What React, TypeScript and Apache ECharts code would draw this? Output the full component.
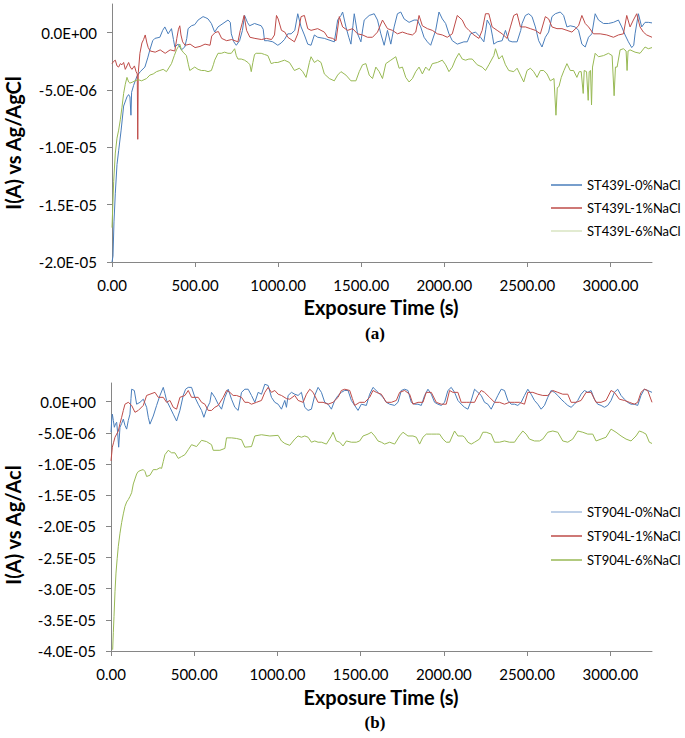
import React, { useEffect, useRef } from "react";
import * as echarts from "echarts";

// ---- data (time in s, current in µA; converted to A when plotted) ----
const st439_0: [number, number][] = [
  [0,-20],[6,-19.5],[12,-16.5],[20,-14],[30,-11.5],[40,-10.3],[55,-8.5],[70,-6.4],[90,-5.6],[100,-5.4],[108,-5.6],[114,-7.2],[118,-5.2],[130,-4.6],[150,-3.8],[170,-3.4],[198,-3.0],[215,-2.2],[228,-1.5],[245,-0.7],[258,-0.5],[288,-0.4],[305,0.2],[318,0.5],[338,-0.1],[358,0.35],[370,-0.6],[378,-1.25],[398,-1.0],[418,-1.5],[438,-1.25],[450,-0.5],[458,0.35],[478,0.6],[498,0.7],[518,1.1],[548,1.4],[565,1.3],[578,1.2],[598,0.8],[618,0.05],[638,0.5],[668,0.8],[698,1.1],[712,0.9],[718,-0.1],[733,-0.8],[748,-1.1],[768,-0.7],[785,0.2],[798,1.5],[815,0.9],[828,0.6],[858,0.8],[898,0.6],[910,0.3],[918,-0.7],[938,-0.7],[968,-0.8],[998,-1.1],[1018,-0.9],[1038,-0.6],[1058,-0.1],[1078,-0.1],[1100,0.2],[1118,1.65],[1138,0.5],[1158,-0.2],[1178,-1.0],[1198,-1.1],[1218,-0.2],[1238,-0.4],[1278,-0.5],[1318,-0.7],[1338,-0.8],[1350,0.3],[1358,1.1],[1378,1.5],[1388,1.8],[1408,0.5],[1425,-0.4],[1438,-1.0],[1450,0.6],[1458,1.65],[1478,-0.1],[1498,-0.8],[1510,0.4],[1518,1.1],[1548,1.5],[1578,1.65],[1598,1.1],[1618,-0.1],[1638,-1.1],[1658,0.2],[1678,-1.0],[1698,0.5],[1718,1.65],[1738,1.8],[1758,1.2],[1788,0.9],[1818,1.1],[1838,1.1],[1858,0.5],[1878,-0.4],[1898,-0.8],[1918,-1.1],[1948,0.2],[1968,1.8],[1988,1.2],[2008,0.8],[2028,-0.1],[2048,-0.7],[2078,-1.0],[2118,-0.8],[2138,-0.8],[2158,-0.1],[2188,0.05],[2218,-0.4],[2238,-0.8],[2250,0.3],[2258,1.1],[2278,0.6],[2290,-0.3],[2298,-1.0],[2318,-0.8],[2348,-0.7],[2368,0.2],[2388,-0.7],[2408,-0.8],[2438,-0.8],[2460,0.2],[2468,0.8],[2488,1.5],[2508,1.65],[2528,1.4],[2548,0.5],[2568,-0.7],[2588,-1.25],[2608,-0.4],[2628,0.05],[2648,1.4],[2668,1.65],[2698,1.8],[2718,1.5],[2738,0.5],[2758,0.6],[2788,0.5],[2808,0.2],[2828,-1.0],[2848,-1.25],[2868,-0.4],[2888,-0.1],[2908,1.65],[2928,1.1],[2958,0.8],[2988,0.8],[3018,0.9],[3048,1.1],[3068,0.5],[3088,-0.2],[3108,-0.8],[3128,-1.3],[3140,-1.1],[3148,-0.1],[3168,1.65],[3188,0.5],[3208,0.9],[3228,0.9],[3250,0.85]
];
const st439_1: [number, number][] = [
  [0,-2.7],[10,-2.5],[20,-2.4],[30,-2.9],[40,-3.0],[50,-2.7],[60,-2.8],[70,-2.6],[80,-3.2],[90,-2.9],[100,-2.6],[110,-3.0],[120,-3.2],[135,-2.9],[145,-3.4],[152,-3.6],[155,-9.3],[158,-3.5],[168,-1.8],[180,-0.9],[190,-0.6],[200,-0.2],[210,-0.9],[218,-1.3],[230,-1.6],[260,-1.7],[290,-1.5],[320,-1.8],[350,-1.5],[378,-1.6],[390,-0.5],[400,0.3],[408,0.6],[415,-0.2],[425,-0.8],[440,-1.1],[470,-1.0],[500,-1.3],[530,-1.2],[560,-1.0],[590,-1.1],[600,-0.3],[620,0.0],[640,0.1],[660,-0.5],[690,-0.7],[720,-0.6],[758,-0.8],[772,0.2],[785,0.9],[795,1.5],[810,0.2],[830,-0.4],[860,-0.5],[900,-0.6],[930,-0.5],[960,-0.6],[978,-0.2],[990,1.5],[1000,1.2],[1020,0.2],[1040,0.05],[1058,-0.4],[1098,-0.8],[1118,-0.1],[1138,1.4],[1158,1.5],[1178,0.35],[1198,0.2],[1238,0.35],[1278,0.05],[1298,-0.4],[1328,-0.5],[1348,-0.7],[1368,1.4],[1388,0.5],[1418,0.2],[1448,0.35],[1478,-0.1],[1508,-0.2],[1538,-0.4],[1568,-0.4],[1598,0.05],[1628,1.1],[1658,0.35],[1688,0.2],[1718,-0.1],[1748,0.05],[1778,-0.1],[1808,-0.2],[1828,0.05],[1848,1.5],[1868,0.6],[1898,0.35],[1928,0.2],[1958,-0.1],[1988,-0.2],[2018,-0.4],[2048,-0.1],[2078,1.5],[2108,1.1],[2128,0.5],[2148,0.2],[2178,-0.2],[2208,-0.5],[2228,0.2],[2248,1.65],[2268,1.65],[2288,0.5],[2318,0.2],[2348,-0.1],[2378,-0.5],[2398,0.5],[2418,1.5],[2438,1.65],[2458,0.5],[2488,0.5],[2518,0.35],[2548,0.2],[2578,-0.1],[2608,1.4],[2628,1.2],[2648,0.5],[2678,0.35],[2708,0.35],[2738,0.2],[2768,0.05],[2808,0.6],[2828,1.5],[2848,0.8],[2868,0.5],[2898,-0.1],[2938,-0.1],[2978,-0.2],[3018,-0.4],[3048,-0.2],[3078,-0.1],[3098,1.5],[3118,0.5],[3138,1.1],[3158,1.65],[3178,0.5],[3198,0.05],[3218,-0.2],[3250,-0.4]
];
const st439_6: [number, number][] = [
  [0,-17],[5,-15],[10,-13],[20,-10.5],[30,-9.2],[40,-8.5],[50,-7.6],[60,-6.5],[70,-5.3],[80,-4.5],[90,-3.9],[100,-4.3],[108,-4.4],[125,-4.3],[138,-4.2],[158,-4.1],[178,-4.2],[208,-4.0],[228,-3.7],[248,-3.6],[268,-3.4],[288,-3.3],[308,-3.2],[328,-3.4],[345,-3.0],[358,-2.7],[375,-2.0],[388,-1.5],[400,-1.2],[408,-1.0],[418,-1.5],[428,-1.7],[448,-2.0],[460,-2.8],[468,-3.3],[498,-3.0],[518,-3.2],[538,-3.3],[558,-3.3],[578,-3.4],[598,-3.3],[610,-2.8],[618,-2.4],[638,-1.8],[658,-1.8],[678,-1.7],[698,-1.8],[718,-1.8],[738,-1.4],[748,-2.0],[758,-2.3],[778,-2.3],[798,-2.4],[818,-2.6],[830,-2.8],[838,-3.4],[848,-2.6],[858,-1.9],[868,-1.8],[898,-1.8],[918,-1.9],[938,-2.0],[958,-2.7],[978,-2.6],[998,-2.6],[1018,-2.5],[1038,-2.4],[1068,-2.6],[1098,-3.3],[1128,-3.1],[1148,-3.4],[1168,-3.9],[1188,-2.6],[1198,-2.1],[1218,-2.6],[1238,-2.4],[1258,-2.6],[1278,-3.6],[1308,-4.0],[1338,-4.2],[1358,-3.7],[1378,-3.4],[1408,-3.7],[1438,-4.2],[1468,-4.2],[1488,-3.4],[1508,-2.8],[1528,-2.7],[1548,-3.7],[1568,-4.0],[1588,-3.0],[1608,-3.4],[1628,-4.0],[1648,-2.7],[1678,-2.4],[1708,-2.1],[1728,-3.1],[1748,-3.0],[1768,-3.9],[1788,-4.3],[1808,-4.0],[1828,-3.4],[1848,-3.0],[1868,-3.6],[1888,-3.0],[1908,-3.3],[1928,-2.7],[1958,-2.6],[1988,-2.4],[2008,-2.8],[2028,-3.4],[2048,-3.0],[2068,-2.3],[2088,-1.8],[2108,-2.3],[2128,-2.4],[2148,-2.3],[2168,-2.3],[2198,-2.8],[2228,-3.0],[2248,-3.3],[2268,-2.8],[2298,-2.0],[2308,-1.4],[2328,-2.3],[2348,-2.0],[2368,-2.8],[2388,-3.3],[2418,-3.4],[2438,-3.1],[2458,-3.7],[2478,-4.3],[2498,-3.3],[2518,-3.1],[2538,-3.4],[2558,-3.9],[2578,-3.3],[2598,-3.3],[2618,-3.6],[2638,-4.2],[2660,-4.0],[2672,-7.2],[2680,-4.8],[2690,-4.7],[2704,-3.9],[2720,-3.3],[2738,-2.7],[2758,-3.3],[2778,-3.3],[2798,-3.9],[2812,-3.4],[2824,-3.4],[2836,-5.3],[2842,-3.3],[2856,-3.4],[2866,-5.9],[2872,-3.4],[2880,-3.3],[2886,-6.3],[2892,-3.0],[2908,-1.8],[2928,-2.1],[2958,-2.0],[2988,-1.8],[3010,-2.0],[3022,-5.5],[3030,-3.0],[3040,-3.0],[3058,-1.5],[3078,-1.4],[3094,-1.6],[3100,-3.3],[3106,-1.6],[3118,-1.5],[3148,-1.7],[3178,-1.8],[3208,-1.25],[3228,-1.4],[3250,-1.3]
];

const st904_0: [number, number][] = [
  [0,-4.9],[4,-3.1],[8,-2.0],[14,-3.0],[20,-4.1],[28,-3.5],[34,-3.3],[40,-5.0],[46,-7.3],[54,-4.1],[64,-3.5],[74,-2.8],[84,-3.8],[94,-4.4],[104,-3.0],[114,-2.0],[120,0.5],[124,2.0],[140,1.8],[154,-0.4],[174,-0.1],[194,0.4],[214,-0.9],[224,-2.5],[234,-3.6],[254,-2.3],[274,-0.6],[294,1.0],[314,2.3],[324,1.3],[334,0.2],[354,-0.9],[374,-2.0],[394,-3.1],[414,-1.4],[434,1.0],[448,2.0],[464,2.3],[484,2.3],[504,0.7],[524,-0.4],[544,-1.4],[558,-2.5],[574,-1.2],[594,-0.1],[604,1.5],[624,0.7],[644,-0.4],[664,-1.2],[684,0.7],[704,2.0],[724,0.4],[744,-0.9],[764,-1.4],[784,1.5],[804,2.0],[824,2.0],[844,1.0],[864,-0.1],[884,1.5],[904,1.2],[924,2.8],[944,2.6],[964,0.7],[984,-0.1],[1004,-0.4],[1024,-1.2],[1044,0.2],[1054,-0.9],[1064,1.0],[1084,1.5],[1104,1.2],[1124,1.0],[1144,1.5],[1164,-0.9],[1184,-1.4],[1204,-1.2],[1224,1.0],[1244,2.3],[1264,1.5],[1284,-0.1],[1304,-0.4],[1324,-1.2],[1344,0.2],[1364,1.0],[1384,1.5],[1404,1.8],[1424,1.8],[1444,0.2],[1464,-0.6],[1484,-1.4],[1504,-0.4],[1534,-0.6],[1554,1.2],[1574,2.3],[1604,1.5],[1634,0.7],[1654,-0.1],[1674,-0.4],[1704,-0.6],[1724,-0.1],[1744,1.8],[1764,2.0],[1784,1.8],[1804,-0.1],[1824,-0.4],[1844,-0.4],[1864,-0.6],[1884,1.0],[1904,2.0],[1924,1.2],[1944,-0.1],[1964,-0.4],[1984,-0.6],[2004,-0.1],[2024,1.8],[2044,2.3],[2064,1.5],[2084,0.2],[2104,-0.4],[2124,-0.9],[2144,-1.2],[2164,0.2],[2184,2.0],[2204,1.5],[2224,1.0],[2244,-0.1],[2264,-0.4],[2284,-1.2],[2304,-0.1],[2324,1.0],[2344,2.0],[2364,1.8],[2384,0.2],[2404,-0.4],[2424,-0.4],[2444,-0.6],[2464,-0.1],[2484,1.0],[2504,2.0],[2524,1.2],[2544,0.2],[2564,-0.4],[2584,-1.2],[2604,-0.6],[2624,0.7],[2644,1.8],[2664,1.5],[2684,1.0],[2704,0.4],[2724,-0.1],[2744,-0.6],[2764,-0.9],[2784,-0.4],[2804,0.2],[2824,1.2],[2844,1.8],[2864,1.5],[2884,1.8],[2904,0.4],[2924,-0.4],[2944,-0.6],[2964,-0.9],[2984,-0.6],[3004,0.2],[3024,1.5],[3044,2.0],[3064,1.0],[3084,0.4],[3104,-0.1],[3124,-0.4],[3144,-0.4],[3164,-0.6],[3184,1.0],[3204,2.0],[3224,1.8],[3250,1.5]
];
const st904_1: [number, number][] = [
  [0,-9.5],[8,-7.3],[16,-6.5],[24,-5.7],[34,-5.2],[44,-4.7],[54,-3.5],[64,-2.5],[74,-1.4],[84,-0.4],[104,-0.1],[124,-0.6],[144,-1.7],[164,-1.4],[194,-0.6],[214,1.0],[234,1.2],[264,1.5],[284,0.7],[314,0.7],[334,-0.1],[354,0.2],[374,-0.9],[394,-1.2],[414,0.7],[444,1.0],[464,1.8],[484,0.7],[524,0.7],[544,-0.1],[564,-0.4],[584,-1.4],[604,-1.4],[624,-0.9],[644,-0.6],[674,0.7],[694,1.8],[714,1.5],[734,1.0],[754,1.0],[784,0.7],[804,-0.1],[824,-0.1],[844,-0.4],[874,-0.1],[904,0.2],[924,1.5],[944,2.3],[964,1.5],[984,1.8],[1004,1.2],[1024,1.0],[1054,0.5],[1074,0.4],[1104,1.0],[1124,0.2],[1154,-0.1],[1174,1.2],[1194,2.0],[1214,1.5],[1244,-0.1],[1274,-0.1],[1304,-0.4],[1334,-0.1],[1364,0.7],[1384,1.8],[1404,2.0],[1434,1.8],[1450,0.5],[1464,-0.6],[1494,-0.1],[1524,-0.1],[1554,0.7],[1574,1.8],[1594,1.5],[1624,1.2],[1654,-0.1],[1684,-0.1],[1714,0.2],[1734,1.5],[1764,1.8],[1794,1.2],[1814,-0.4],[1844,-0.1],[1874,-0.1],[1894,1.5],[1924,1.5],[1954,-0.1],[1984,-0.4],[2014,-0.4],[2034,1.8],[2054,1.5],[2084,1.5],[2104,-0.1],[2134,-0.1],[2154,-0.1],[2184,-0.1],[2204,1.0],[2224,1.8],[2244,1.5],[2274,0.7],[2304,-0.1],[2334,-0.1],[2364,-0.4],[2394,-0.1],[2424,-0.1],[2454,-0.1],[2484,-0.4],[2504,1.5],[2534,1.5],[2564,1.2],[2594,1.0],[2624,1.0],[2654,1.8],[2684,1.5],[2714,1.2],[2744,1.2],[2764,-0.1],[2794,-0.1],[2824,0.2],[2854,1.5],[2884,1.5],[2914,-0.1],[2944,-0.1],[2974,0.2],[3004,1.8],[3024,1.5],[3054,0.4],[3084,0.2],[3114,-0.1],[3144,-0.4],[3164,-0.1],[3184,1.5],[3204,2.0],[3224,1.8],[3250,-0.1]
];
const st904_6: [number, number][] = [
  [10,-39.8],[14,-37],[18,-34.5],[24,-30.5],[30,-27.5],[37,-25.2],[44,-23.2],[54,-21.1],[64,-19.4],[74,-18.0],[84,-16.8],[94,-16.1],[104,-15.7],[114,-15.2],[124,-14.6],[134,-13.2],[144,-12.4],[154,-11.6],[164,-11.2],[180,-11.0],[194,-10.9],[204,-11.2],[214,-12.0],[234,-11.8],[254,-10.9],[274,-10.9],[294,-10.6],[304,-10.7],[314,-9.6],[324,-8.5],[344,-7.8],[364,-8.2],[384,-8.2],[404,-9.1],[424,-8.8],[444,-8.5],[464,-7.7],[484,-6.9],[514,-7.2],[544,-6.2],[574,-6.4],[604,-6.9],[614,-7.8],[654,-7.8],[684,-7.5],[694,-5.8],[724,-5.8],[754,-5.9],[784,-6.1],[804,-7.3],[844,-7.2],[864,-5.5],[904,-5.3],[954,-5.5],[1004,-5.4],[1024,-6.3],[1044,-6.7],[1074,-7.0],[1104,-6.0],[1124,-5.5],[1144,-5.7],[1164,-5.5],[1184,-5.7],[1204,-6.5],[1224,-6.3],[1244,-6.5],[1264,-6.5],[1294,-6.8],[1324,-5.5],[1334,-4.9],[1354,-6.3],[1374,-6.5],[1394,-7.1],[1414,-6.3],[1444,-6.5],[1474,-6.5],[1494,-6.3],[1514,-5.5],[1544,-5.2],[1564,-4.9],[1584,-5.5],[1604,-6.3],[1624,-6.5],[1644,-6.8],[1674,-6.5],[1704,-6.8],[1734,-5.5],[1754,-4.9],[1784,-5.5],[1814,-5.5],[1834,-5.7],[1854,-6.8],[1874,-5.7],[1894,-5.2],[1924,-5.2],[1954,-5.2],[1974,-5.2],[1994,-6.0],[2014,-6.5],[2034,-6.5],[2064,-4.7],[2084,-5.5],[2114,-5.5],[2124,-5.7],[2144,-6.5],[2164,-6.8],[2184,-6.5],[2214,-6.0],[2234,-4.9],[2254,-4.9],[2284,-5.2],[2304,-6.5],[2334,-6.5],[2364,-6.3],[2394,-6.5],[2424,-6.5],[2444,-5.7],[2474,-4.7],[2494,-5.2],[2514,-6.0],[2544,-6.3],[2574,-6.3],[2594,-6.0],[2624,-4.9],[2654,-4.7],[2684,-4.9],[2714,-6.3],[2744,-6.5],[2774,-6.0],[2804,-4.7],[2834,-4.9],[2864,-5.2],[2894,-5.2],[2914,-6.3],[2944,-6.0],[2974,-5.7],[3004,-4.4],[3034,-4.9],[3064,-5.5],[3094,-6.0],[3124,-6.3],[3154,-5.5],[3174,-4.7],[3194,-4.9],[3214,-5.2],[3234,-6.5],[3250,-6.7]
];

const namesA = ["ST439L-0%NaCl", "ST439L-1%NaCl", "ST439L-6%NaCl"];
const namesB = ["ST904L-0%NaCl", "ST904L-1%NaCl", "ST904L-6%NaCl"];
const xTitle = "Exposure Time (s)";
const yTitleA = "I(A) vs Ag/AgCl";
const yTitleB = "I(A) vs Ag/Acl";

const BLUE = "#4a7ebb";
const RED = "#be4b48";
const GREEN = "#98b954";
const FONT = "Lato, 'Open Sans', sans-serif";

function sci(v: number): string {
  if (Math.abs(v) < 1e-13) return "0.0E+00";
  let e = Math.floor(Math.log10(Math.abs(v)));
  let m = v / Math.pow(10, e);
  if (Math.abs(Math.round(m * 10) / 10) >= 10) { m /= 10; e += 1; }
  if (Math.abs(Math.round(m * 10) / 10) < 1) { m *= 10; e -= 1; }
  return m.toFixed(1) + "E" + (e < 0 ? "-" : "+") + String(Math.abs(e)).padStart(2, "0");
}

const toA = (arr: [number, number][]) => arr.map(([t, v]) => [t, v * 1e-6]);

export default function App() {
  const ref = useRef<HTMLDivElement>(null);
  useEffect(() => {
    if (!ref.current) return;
    const chart = echarts.init(ref.current, null, { renderer: "svg" });
    const axisLine = { lineStyle: { color: "#868686", width: 1 } };
    const labelStyle = { color: "#000", fontFamily: FONT, fontSize: 15 };
    const xAxisCommon = {
      type: "value", min: 0, max: 3250, interval: 500,
      axisLine: { show: true, onZero: false, ...axisLine },
      axisTick: { show: true, length: 5, lineStyle: { color: "#868686" } },
      splitLine: { show: false },
      axisLabel: { ...labelStyle, margin: 15, showMaxLabel: false, formatter: (v: number) => v.toFixed(2) },
    };
    const yAxisCommon = {
      type: "value", interval: 5e-6,
      axisLine: { show: true, ...axisLine },
      axisTick: { show: true, length: 5, lineStyle: { color: "#868686" } },
      splitLine: { show: false },
      axisLabel: { ...labelStyle, margin: 15, showMaxLabel: false, formatter: (v: number) => sci(v) },
    };
    const line = (name: string, data: [number, number][], color: string, idx: number) => ({
      name, type: "line", data: toA(data), xAxisIndex: idx, yAxisIndex: idx,
      symbol: "none", showSymbol: false,
      lineStyle: { color, width: 1 }, itemStyle: { color }, emphasis: { disabled: true },
    });
    const legendCommon = {
      orient: "vertical", icon: "rect", itemWidth: 31, itemHeight: 1.5, itemGap: 7, padding: 0,
      textStyle: { color: "#000", fontFamily: FONT, fontSize: 13, lineHeight: 16 },
      selectedMode: false,
    };
    const titleStyle = { fill: "#000", fontFamily: FONT, fontSize: 20, fontWeight: "bold", textAlign: "center", textVerticalAlign: "middle" };
    const capStyle = { fill: "#000", fontFamily: "'Liberation Serif', 'Times New Roman', serif", fontSize: 17, fontWeight: "bold", textAlign: "center", textVerticalAlign: "middle" };
    chart.setOption({
      animation: false,
      backgroundColor: "#fff",
      grid: [
        { left: 112, top: 4, width: 540, height: 258 },
        { left: 111, top: 383, width: 541, height: 268 },
      ],
      xAxis: [{ ...xAxisCommon, gridIndex: 0 }, { ...xAxisCommon, gridIndex: 1 }],
      yAxis: [
        { ...yAxisCommon, gridIndex: 0, min: -2e-5, max: 2.5e-6 },
        { ...yAxisCommon, gridIndex: 1, min: -4e-5, max: 3e-6 },
      ],
      legend: [
        { ...legendCommon, left: 551, top: 177,
          data: [
            { name: namesA[0], itemStyle: { color: BLUE } },
            { name: namesA[1], itemStyle: { color: RED } },
            { name: namesA[2], itemStyle: { color: "#d8e4c2" } },
          ] },
        { ...legendCommon, left: 551, top: 504, itemGap: 8,
          data: [
            { name: namesB[0], itemStyle: { color: "#a9c1e0" } },
            { name: namesB[1], itemStyle: { color: RED } },
            { name: namesB[2], itemStyle: { color: GREEN } },
          ] },
      ],
      series: [
        line(namesA[0], st439_0, BLUE, 0),
        line(namesA[1], st439_1, RED, 0),
        line(namesA[2], st439_6, GREEN, 0),
        line(namesB[0], st904_0, BLUE, 1),
        line(namesB[1], st904_1, RED, 1),
        line(namesB[2], st904_6, GREEN, 1),
      ],
      graphic: [
        { type: "text", x: 13, y: 143, rotation: Math.PI / 2, style: { text: yTitleA, ...titleStyle } },
        { type: "text", x: 381, y: 307, style: { text: xTitle, ...titleStyle } },
        { type: "text", x: 375, y: 333, style: { text: "(a)", ...capStyle } },
        { type: "text", x: 13, y: 525, rotation: Math.PI / 2, style: { text: yTitleB, ...titleStyle } },
        { type: "text", x: 381, y: 697, style: { text: xTitle, ...titleStyle } },
        { type: "text", x: 375, y: 722, style: { text: "(b)", ...capStyle } },
      ],
    });
    return () => chart.dispose();
  }, []);
  return <div ref={ref} style={{ position: "fixed", left: 0, top: 0, width: 685, height: 738, background: "#fff" }} />;
}
